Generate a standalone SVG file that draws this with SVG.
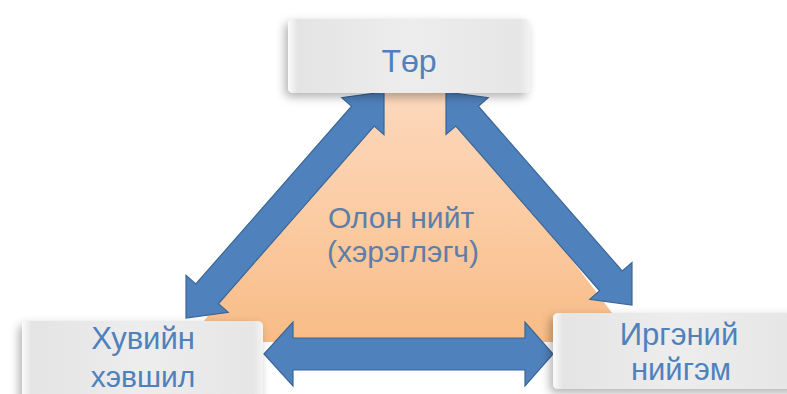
<svg xmlns="http://www.w3.org/2000/svg" width="787" height="394" viewBox="0 0 787 394">
  <defs>
    <linearGradient id="orange" x1="0" y1="0" x2="0" y2="1">
      <stop offset="0" stop-color="#FBDCC4"/>
      <stop offset="0.5" stop-color="#FCCEA8"/>
      <stop offset="1" stop-color="#F8BC86"/>
    </linearGradient>
    <linearGradient id="boxfill" x1="0" y1="0" x2="1" y2="0">
      <stop offset="0" stop-color="#FBFBFB"/>
      <stop offset="0.04" stop-color="#E4E4E4"/>
      <stop offset="0.5" stop-color="#EDEDED"/>
      <stop offset="0.96" stop-color="#E6E6E6"/>
      <stop offset="1" stop-color="#F4F4F4"/>
    </linearGradient>
    <filter id="shadow" x="-20%" y="-30%" width="140%" height="170%">
      <feDropShadow dx="-3" dy="4" stdDeviation="5" flood-color="#000" flood-opacity="0.3"/>
    </filter>
    <style>
      .arrow { fill: #4F81BD; stroke: #3B6696; stroke-width: 1.2; stroke-linejoin: miter; }
      .box { fill: url(#boxfill); filter: url(#shadow); }
      .label { font-family: "Liberation Sans", Arial, sans-serif; fill: #4F81BD; text-anchor: middle; }
      .center { font-family: "Liberation Sans", Arial, sans-serif; fill: #5E7EA8; text-anchor: middle; font-size: 30px; }
    </style>
  </defs>

  <g id="background">
    <polygon points="412,48 188,342 634,342" fill="url(#orange)"/>
  </g>

  <g id="connectors">
    <polygon class="arrow" points="384,92 384,134.6 374.2,126 218.4,303.8 228.2,312.4 186,318 186,275.4 195.8,284 351.6,106.2 341.8,97.6"/>
    <polygon class="arrow" points="446,92 488.2,97.7 478.4,106.2 622.2,271 632,262.5 632,305 589.8,299.3 599.6,290.8 455.8,126 446,134.5"/>
    <polygon class="arrow" points="264,354 293,322 293,338 525,338 525,322 553,354 525,386 525,370 293,370 293,386"/>
  </g>

  <g id="center-label">
    <text class="center" x="401" y="228">Олон нийт</text>
    <text class="center" x="403" y="262">(хэрэглэгч)</text>
  </g>

  <g id="node-tor">
    <rect class="box" x="288" y="19" width="242" height="74" rx="5"/>
    <text class="label" x="409" y="72" font-size="32">Төр</text>
  </g>

  <g id="node-khuviin">
    <rect class="box" x="22" y="321" width="241" height="90" rx="5"/>
    <text class="label" x="143" y="349" font-size="31">Хувийн</text>
    <text class="label" x="143" y="387" font-size="30">хэвшил</text>
  </g>

  <g id="node-irgenii">
    <rect class="box" x="553" y="313" width="250" height="76" rx="5"/>
    <text class="label" x="679" y="345" font-size="31">Иргэний</text>
    <text class="label" x="681" y="380" font-size="31">нийгэм</text>
  </g>
</svg>
